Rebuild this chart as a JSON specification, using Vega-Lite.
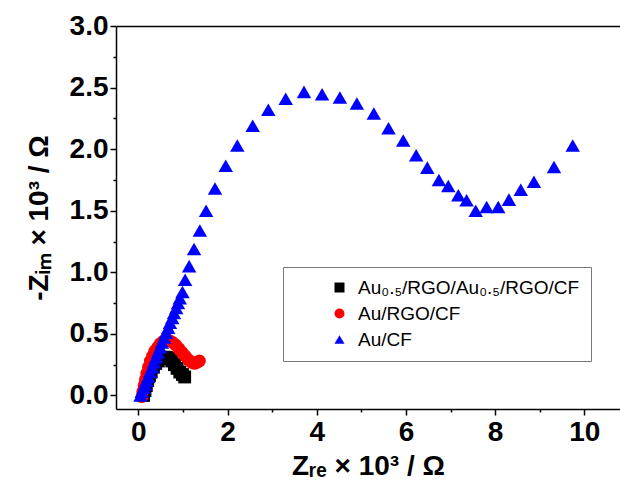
{
  "$schema": "https://vega.github.io/schema/vega-lite/v6.json",
  "width": 504,
  "height": 383,
  "autosize": {"type": "none"},
  "padding": {"left": 116, "top": 26, "right": 0, "bottom": 81},
  "background": "white",
  "config": {
    "view": {"stroke": null},
    "axis": {
      "grid": false,
      "domainColor": "black",
      "domainWidth": 1.5,
      "tickColor": "black",
      "tickWidth": 1.5,
      "labelFont": "Liberation Sans",
      "labelFontWeight": "bold",
      "labelFontSize": 28,
      "labelColor": "black",
      "titleFont": "Liberation Sans",
      "titleFontWeight": "bold",
      "titleFontSize": 28,
      "titleColor": "black"
    },
    "legend": {
      "orient": "none",
      "legendX": 167,
      "legendY": 241,
      "title": null,
      "fillColor": "white",
      "strokeColor": "#777777",
      "padding": 11,
      "symbolOffset": 36,
      "symbolStrokeWidth": 0,
      "labelFont": "Liberation Sans",
      "labelFontSize": 19,
      "labelColor": "black",
      "labelOffset": 9,
      "labelLimit": 500,
      "rowPadding": 6
    }
  },
  "data": {
    "values": [
      {"sample": "Au₀.₅/RGO/Au₀.₅/RGO/CF", "zre": 0.12, "zim": 0.00},
      {"sample": "Au₀.₅/RGO/Au₀.₅/RGO/CF", "zre": 0.15, "zim": 0.04},
      {"sample": "Au₀.₅/RGO/Au₀.₅/RGO/CF", "zre": 0.18, "zim": 0.08},
      {"sample": "Au₀.₅/RGO/Au₀.₅/RGO/CF", "zre": 0.21, "zim": 0.12},
      {"sample": "Au₀.₅/RGO/Au₀.₅/RGO/CF", "zre": 0.25, "zim": 0.16},
      {"sample": "Au₀.₅/RGO/Au₀.₅/RGO/CF", "zre": 0.29, "zim": 0.19},
      {"sample": "Au₀.₅/RGO/Au₀.₅/RGO/CF", "zre": 0.34, "zim": 0.23},
      {"sample": "Au₀.₅/RGO/Au₀.₅/RGO/CF", "zre": 0.39, "zim": 0.26},
      {"sample": "Au₀.₅/RGO/Au₀.₅/RGO/CF", "zre": 0.45, "zim": 0.28},
      {"sample": "Au₀.₅/RGO/Au₀.₅/RGO/CF", "zre": 0.51, "zim": 0.30},
      {"sample": "Au₀.₅/RGO/Au₀.₅/RGO/CF", "zre": 0.57, "zim": 0.31},
      {"sample": "Au₀.₅/RGO/Au₀.₅/RGO/CF", "zre": 0.63, "zim": 0.31},
      {"sample": "Au₀.₅/RGO/Au₀.₅/RGO/CF", "zre": 0.69, "zim": 0.30},
      {"sample": "Au₀.₅/RGO/Au₀.₅/RGO/CF", "zre": 0.75, "zim": 0.28},
      {"sample": "Au₀.₅/RGO/Au₀.₅/RGO/CF", "zre": 0.81, "zim": 0.25},
      {"sample": "Au₀.₅/RGO/Au₀.₅/RGO/CF", "zre": 0.87, "zim": 0.22},
      {"sample": "Au₀.₅/RGO/Au₀.₅/RGO/CF", "zre": 0.93, "zim": 0.19},
      {"sample": "Au₀.₅/RGO/Au₀.₅/RGO/CF", "zre": 0.99, "zim": 0.17},
      {"sample": "Au₀.₅/RGO/Au₀.₅/RGO/CF", "zre": 1.04, "zim": 0.15},
      {"sample": "Au/RGO/CF", "zre": 0.08, "zim": -0.01},
      {"sample": "Au/RGO/CF", "zre": 0.10, "zim": 0.03},
      {"sample": "Au/RGO/CF", "zre": 0.13, "zim": 0.08},
      {"sample": "Au/RGO/CF", "zre": 0.16, "zim": 0.13},
      {"sample": "Au/RGO/CF", "zre": 0.19, "zim": 0.18},
      {"sample": "Au/RGO/CF", "zre": 0.23, "zim": 0.23},
      {"sample": "Au/RGO/CF", "zre": 0.27, "zim": 0.28},
      {"sample": "Au/RGO/CF", "zre": 0.32, "zim": 0.32},
      {"sample": "Au/RGO/CF", "zre": 0.37, "zim": 0.36},
      {"sample": "Au/RGO/CF", "zre": 0.43, "zim": 0.39},
      {"sample": "Au/RGO/CF", "zre": 0.49, "zim": 0.42},
      {"sample": "Au/RGO/CF", "zre": 0.56, "zim": 0.44},
      {"sample": "Au/RGO/CF", "zre": 0.63, "zim": 0.45},
      {"sample": "Au/RGO/CF", "zre": 0.70, "zim": 0.445},
      {"sample": "Au/RGO/CF", "zre": 0.77, "zim": 0.43},
      {"sample": "Au/RGO/CF", "zre": 0.84, "zim": 0.41},
      {"sample": "Au/RGO/CF", "zre": 0.91, "zim": 0.38},
      {"sample": "Au/RGO/CF", "zre": 0.98, "zim": 0.35},
      {"sample": "Au/RGO/CF", "zre": 1.05, "zim": 0.32},
      {"sample": "Au/RGO/CF", "zre": 1.12, "zim": 0.29},
      {"sample": "Au/RGO/CF", "zre": 1.19, "zim": 0.27},
      {"sample": "Au/RGO/CF", "zre": 1.26, "zim": 0.26},
      {"sample": "Au/RGO/CF", "zre": 1.32, "zim": 0.27},
      {"sample": "Au/RGO/CF", "zre": 1.37, "zim": 0.28},
      {"sample": "Au/CF", "zre": 0.05, "zim": 0.00},
      {"sample": "Au/CF", "zre": 0.08, "zim": 0.03},
      {"sample": "Au/CF", "zre": 0.12, "zim": 0.06},
      {"sample": "Au/CF", "zre": 0.15, "zim": 0.09},
      {"sample": "Au/CF", "zre": 0.18, "zim": 0.12},
      {"sample": "Au/CF", "zre": 0.22, "zim": 0.15},
      {"sample": "Au/CF", "zre": 0.26, "zim": 0.19},
      {"sample": "Au/CF", "zre": 0.31, "zim": 0.23},
      {"sample": "Au/CF", "zre": 0.35, "zim": 0.27},
      {"sample": "Au/CF", "zre": 0.40, "zim": 0.31},
      {"sample": "Au/CF", "zre": 0.44, "zim": 0.35},
      {"sample": "Au/CF", "zre": 0.49, "zim": 0.39},
      {"sample": "Au/CF", "zre": 0.53, "zim": 0.43},
      {"sample": "Au/CF", "zre": 0.58, "zim": 0.47},
      {"sample": "Au/CF", "zre": 0.62, "zim": 0.51},
      {"sample": "Au/CF", "zre": 0.67, "zim": 0.55},
      {"sample": "Au/CF", "zre": 0.71, "zim": 0.59},
      {"sample": "Au/CF", "zre": 0.76, "zim": 0.63},
      {"sample": "Au/CF", "zre": 0.80, "zim": 0.67},
      {"sample": "Au/CF", "zre": 0.85, "zim": 0.71},
      {"sample": "Au/CF", "zre": 0.89, "zim": 0.75},
      {"sample": "Au/CF", "zre": 0.93, "zim": 0.79},
      {"sample": "Au/CF", "zre": 0.99, "zim": 0.84},
      {"sample": "Au/CF", "zre": 1.05, "zim": 0.94},
      {"sample": "Au/CF", "zre": 1.14, "zim": 1.05},
      {"sample": "Au/CF", "zre": 1.25, "zim": 1.19},
      {"sample": "Au/CF", "zre": 1.38, "zim": 1.34},
      {"sample": "Au/CF", "zre": 1.52, "zim": 1.50},
      {"sample": "Au/CF", "zre": 1.72, "zim": 1.68},
      {"sample": "Au/CF", "zre": 1.96, "zim": 1.865},
      {"sample": "Au/CF", "zre": 2.22, "zim": 2.03},
      {"sample": "Au/CF", "zre": 2.565, "zim": 2.19},
      {"sample": "Au/CF", "zre": 2.915, "zim": 2.32},
      {"sample": "Au/CF", "zre": 3.305, "zim": 2.41},
      {"sample": "Au/CF", "zre": 3.715, "zim": 2.465},
      {"sample": "Au/CF", "zre": 4.12, "zim": 2.445},
      {"sample": "Au/CF", "zre": 4.52, "zim": 2.42},
      {"sample": "Au/CF", "zre": 4.90, "zim": 2.37},
      {"sample": "Au/CF", "zre": 5.28, "zim": 2.29},
      {"sample": "Au/CF", "zre": 5.61, "zim": 2.17},
      {"sample": "Au/CF", "zre": 5.94, "zim": 2.07},
      {"sample": "Au/CF", "zre": 6.23, "zim": 1.95},
      {"sample": "Au/CF", "zre": 6.48, "zim": 1.85},
      {"sample": "Au/CF", "zre": 6.74, "zim": 1.75},
      {"sample": "Au/CF", "zre": 6.95, "zim": 1.70},
      {"sample": "Au/CF", "zre": 7.175, "zim": 1.625},
      {"sample": "Au/CF", "zre": 7.36, "zim": 1.585},
      {"sample": "Au/CF", "zre": 7.565, "zim": 1.50},
      {"sample": "Au/CF", "zre": 7.81, "zim": 1.53},
      {"sample": "Au/CF", "zre": 8.07, "zim": 1.53},
      {"sample": "Au/CF", "zre": 8.31, "zim": 1.59},
      {"sample": "Au/CF", "zre": 8.575, "zim": 1.67},
      {"sample": "Au/CF", "zre": 8.87, "zim": 1.735},
      {"sample": "Au/CF", "zre": 9.32, "zim": 1.855},
      {"sample": "Au/CF", "zre": 9.74, "zim": 2.03}
    ]
  },
  "layer": [
    {
      "transform": [{"filter": "datum.sample !== 'Au/CF'"}],
      "mark": {"type": "point", "filled": true, "opacity": 1, "size": 165},
      "encoding": {
        "x": {
          "field": "zre",
          "type": "quantitative",
          "scale": {"domain": [-0.5, 10.8], "nice": false, "zero": false},
          "axis": {
            "orient": "bottom",
            "values": [0, 2, 4, 6, 8, 10],
            "format": "d",
            "tickSize": 6,
            "labelPadding": 3,
            "title": "Zᵣₑ × 10³ / Ω",
            "titlePadding": 6
          }
        },
        "y": {
          "field": "zim",
          "type": "quantitative",
          "scale": {"domain": [-0.11, 3.0], "nice": false, "zero": false},
          "axis": {
            "orient": "left",
            "values": [0, 0.5, 1, 1.5, 2, 2.5, 3],
            "format": ".1f",
            "tickSize": 6,
            "labelPadding": 2,
            "title": "-Zᵢₘ × 10³ / Ω",
            "titlePadding": 16
          }
        },
        "color": {
          "field": "sample",
          "type": "nominal",
          "scale": {
            "domain": ["Au₀.₅/RGO/Au₀.₅/RGO/CF", "Au/RGO/CF", "Au/CF"],
            "range": ["#000000", "#ff0000", "#0000ff"]
          },
          "legend": {"symbolSize": 100}
        },
        "shape": {
          "field": "sample",
          "type": "nominal",
          "scale": {
            "domain": ["Au₀.₅/RGO/Au₀.₅/RGO/CF", "Au/RGO/CF", "Au/CF"],
            "range": ["square", "circle", "triangle-up"]
          },
          "legend": {"symbolSize": 100}
        }
      }
    },
    {
      "mark": {"type": "point", "opacity": 0},
      "encoding": {
        "x": {
          "field": "zre",
          "type": "quantitative",
          "axis": {"orient": "bottom", "values": [1, 3, 5, 7, 9], "labels": false, "domain": false, "tickSize": 3, "title": null}
        },
        "y": {
          "field": "zim",
          "type": "quantitative",
          "axis": {"orient": "left", "values": [0.25, 0.75, 1.25, 1.75, 2.25, 2.75], "labels": false, "domain": false, "tickSize": 3, "title": null}
        }
      }
    },
    {
      "mark": {"type": "point", "opacity": 0},
      "encoding": {
        "x": {
          "field": "zre",
          "type": "quantitative",
          "axis": {"orient": "top", "labels": false, "ticks": false, "title": null}
        },
        "y": {"field": "zim", "type": "quantitative", "axis": null}
      }
    },
    {
      "transform": [{"filter": "datum.sample === 'Au/CF'"}],
      "mark": {"type": "point", "filled": true, "opacity": 1, "size": 210, "shape": "triangle-up", "color": "#0000ff"},
      "encoding": {
        "x": {"field": "zre", "type": "quantitative", "axis": null},
        "y": {"field": "zim", "type": "quantitative", "axis": null}
      }
    }
  ],
  "resolve": {"axis": {"x": "independent", "y": "independent"}}
}
